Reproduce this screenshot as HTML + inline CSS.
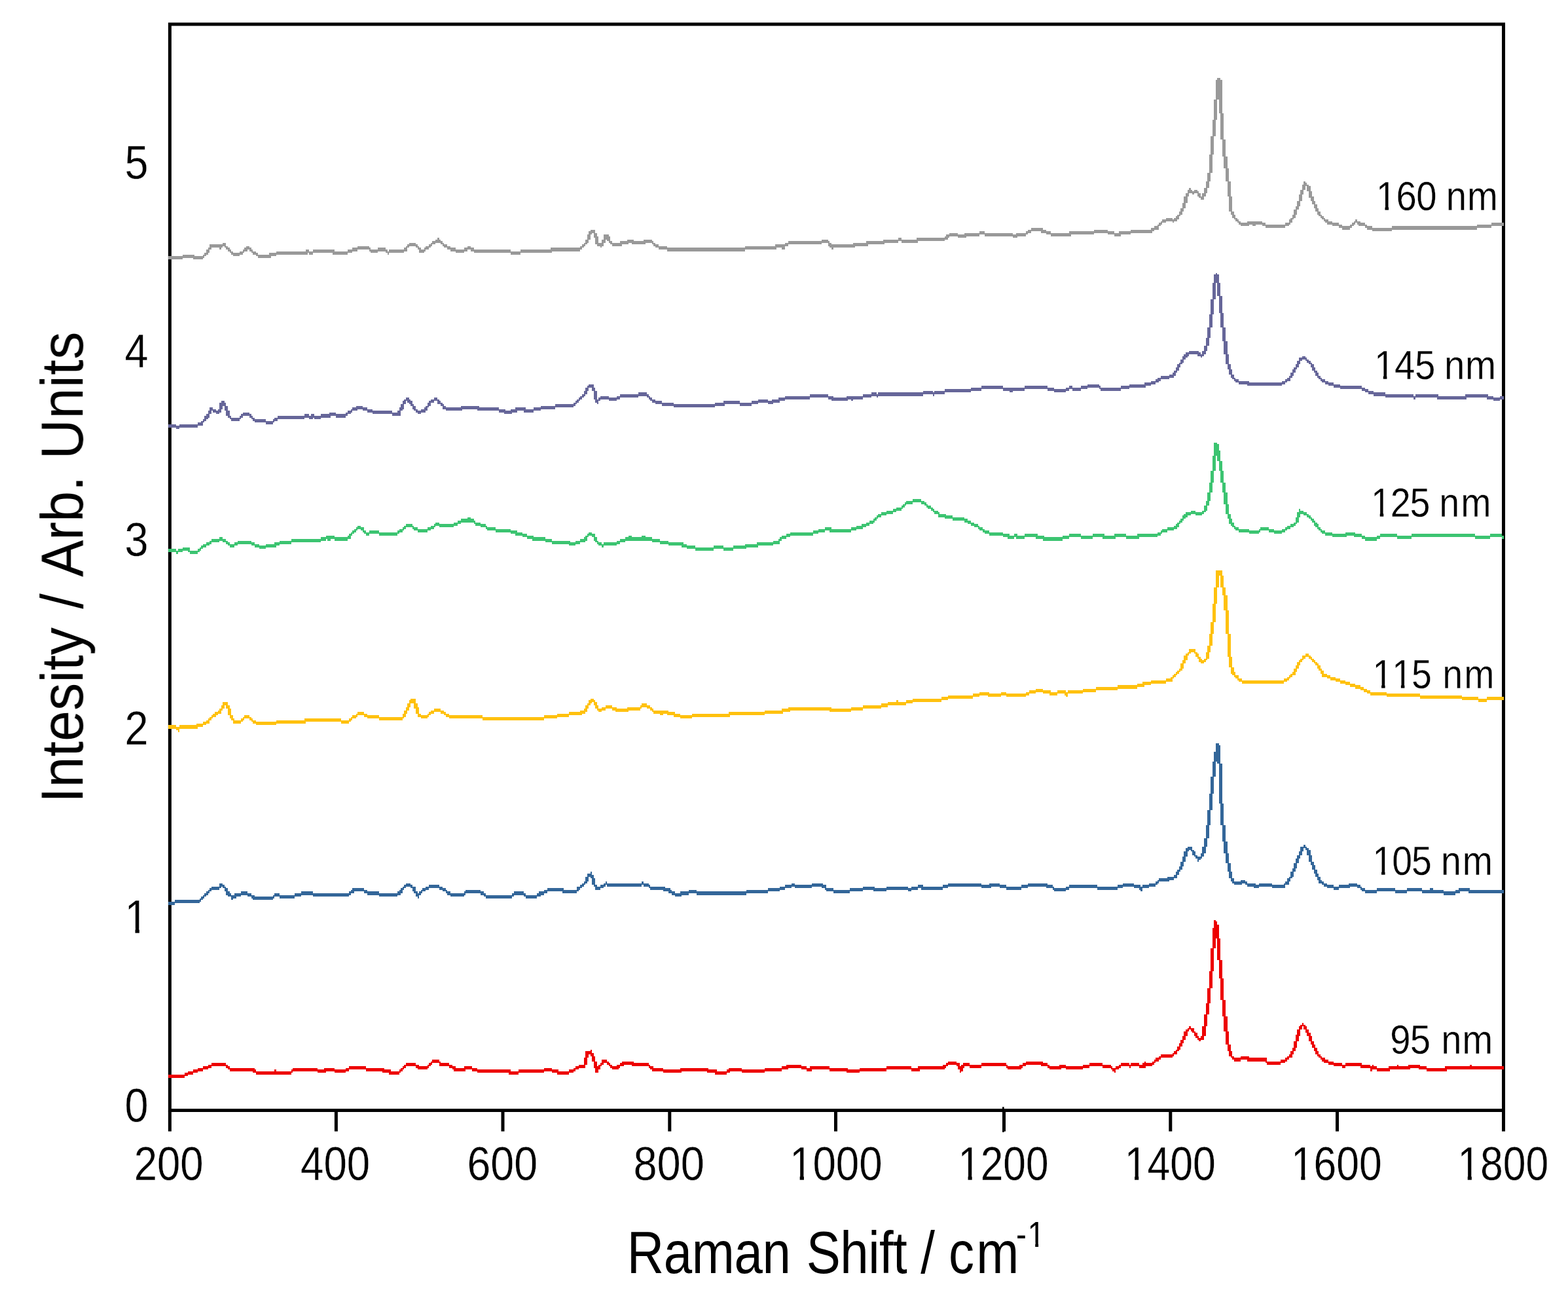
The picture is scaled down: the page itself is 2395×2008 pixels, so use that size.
<!DOCTYPE html>
<html lang="en"><head><meta charset="utf-8"><title>Raman spectra</title>
<style>html,body{margin:0;padding:0;background:#fff;}body{width:2395px;height:2008px;overflow:hidden;}svg{display:block;}text{font-family:"Liberation Sans",Arial,Helvetica,sans-serif;fill:#000;white-space:pre;font-kerning:none;font-variant-ligatures:none;}</style>
</head><body>
<svg width="2395" height="2008" viewBox="0 0 2395 2008">
<defs><filter id="soft" x="-5%" y="-20%" width="110%" height="140%"><feGaussianBlur stdDeviation="0.7"/></filter></defs>
<rect x="0" y="0" width="2395" height="2008" fill="#fff"/>
<g stroke="#000" stroke-width="5.0" fill="none" stroke-linecap="butt">
<rect x="259.4" y="37.0" width="2037.1" height="1658.5"/>
<line x1="259.40" y1="1695.5" x2="259.40" y2="1727.6"/>
<line x1="513.40" y1="1695.5" x2="513.40" y2="1727.6"/>
<line x1="768.00" y1="1695.5" x2="768.00" y2="1727.6"/>
<line x1="1022.80" y1="1695.5" x2="1022.80" y2="1727.6"/>
<line x1="1276.50" y1="1695.5" x2="1276.50" y2="1727.6"/>
<line x1="1533.50" y1="1695.5" x2="1533.50" y2="1727.6"/>
<line x1="1532.35" y1="1690.3" x2="1532.35" y2="1728.8" stroke-width="2.7"/>
<line x1="1787.80" y1="1695.5" x2="1787.80" y2="1727.6"/>
<line x1="2042.50" y1="1695.5" x2="2042.50" y2="1727.6"/>
<line x1="2296.50" y1="1695.5" x2="2296.50" y2="1727.6"/>
</g>
<g stroke="none" shape-rendering="crispEdges">
<path d="M1859.28,119.38H1864.36V121.92H1866.9V172.72H1869.44V213.36H1871.98V238.76H1874.52V256.54H1877.06V276.86H1879.6V299.72H1882.14V322.58H1884.68V327.66H1887.22V332.74H1889.76V335.28H1892.3V337.82H1894.84V340.36H1905V337.82H1927.86V340.36H1932.94V342.9H1963.42V340.36H1968.5V335.28H1971.04V332.74H1973.58V327.66H1976.12V320.04H1978.66V314.96H1981.2V307.34H1983.74V297.18H1986.28V289.56H1988.82V281.94H1991.36V276.86H1993.9V279.4H1996.44V281.94H1998.98V284.48H2001.52V292.1H2004.06V299.72H2006.6V307.34H2009.14V312.42H2011.68V317.5H2014.22V322.58H2016.76V327.66H2019.3V330.2H2021.84V332.74H2024.38V335.28H2029.46V337.82H2034.54V340.36H2044.7V342.9H2049.78V345.44H2062.48V342.9H2065.02V340.36H2067.56V337.82H2070.1V335.28H2072.64V337.82H2077.72V340.36H2085.34V342.9H2087.88V345.44H2095.5V347.98H2125.98V345.44H2255.52V342.9H2278.38V340.36H2296.6V345.44H2278.38V347.98H2255.52V350.52H2125.98V353.06H2095.5V350.52H2087.88V347.98H2085.34V345.44H2075.18V342.9H2072.64V340.36H2070.1V342.9H2067.56V345.44H2065.02V347.98H2062.48V350.52H2049.78V347.98H2044.7V345.44H2034.54V342.9H2026.92V340.36H2024.38V337.82H2021.84V335.28H2019.3V332.74H2016.76V330.2H2014.22V327.66H2011.68V322.58H2009.14V317.5H2006.6V312.42H2004.06V307.34H2001.52V302.26H1998.98V292.1H1996.44V284.48H1993.9V289.56H1991.36V297.18H1988.82V307.34H1986.28V314.96H1983.74V320.04H1981.2V327.66H1978.66V332.74H1976.12V335.28H1973.58V340.36H1971.04V342.9H1968.5V345.44H1963.42V347.98H1932.94V345.44H1927.86V342.9H1917.7V345.44H1912.62V342.9H1907.54V345.44H1894.84V342.9H1892.3V340.36H1889.76V337.82H1887.22V335.28H1884.68V332.74H1882.14V327.66H1879.6V322.58H1877.06V299.72H1874.52V276.86H1871.98V256.54H1869.44V238.76H1866.9V213.36H1864.36V172.72H1861.82V152.4H1859.28V182.88H1856.74V208.28H1854.2V236.22H1851.66V264.16H1849.12V276.86H1846.58V287.02H1844.04V294.64H1841.5V299.72H1838.96V304.8H1833.88V302.26H1831.34V299.72H1828.8V294.64H1823.72V297.18H1821.18V294.64H1816.1V299.72H1813.56V309.88H1811.02V317.5H1808.48V322.58H1805.94V327.66H1803.4V330.2H1800.86V335.28H1798.32V337.82H1793.24V340.36H1790.7V337.82H1780.54V340.36H1775.46V342.9H1772.92V345.44H1770.38V350.52H1762.76V353.06H1760.22V355.6H1727.2V358.14H1711.96V360.68H1701.8V358.14H1691.64V355.6H1671.32V358.14H1635.76V360.68H1605.28V358.14H1597.66V355.6H1590.04V353.06H1574.8V355.6H1569.72V358.14H1567.18V360.68H1554.48V363.22H1546.86V360.68H1503.68V358.14H1496.06V360.68H1475.74V363.22H1463.04V360.68H1450.34V363.22H1447.8V365.76H1442.72V368.3H1402.08V370.84H1376.68V368.3H1371.6V370.84H1351.28V373.38H1325.88V375.92H1305.56V378.46H1272.54V381H1270V378.46H1267.46V375.92H1264.92V370.84H1254.76V373.38H1203.96V375.92H1198.88V381H1193.8V378.46H1186.18V381H1137.92V383.54H1018.54V381H1005.84V378.46H1000.76V375.92H998.22V373.38H995.68V370.84H985.52V373.38H965.2V370.84H960.12V373.38H949.96V375.92H934.72V373.38H932.18V370.84H929.64V368.3H927.1V365.76H924.56V370.84H922.02V375.92H919.48V378.46H916.94V375.92H911.86V373.38H909.32V363.22H906.78V355.6H904.24V358.14H901.7V365.76H899.16V370.84H896.62V373.38H894.08V375.92H891.54V378.46H889V381H886.46V383.54H843.28V386.08H795.02V388.62H779.78V386.08H723.9V383.54H718.82V381H713.74V383.54H708.66V386.08H695.96V383.54H688.34V381H683.26V378.46H678.18V375.92H675.64V373.38H673.1V370.84H665.48V373.38H660.4V375.92H657.86V378.46H655.32V381H650.24V383.54H647.7V386.08H640.08V381H637.54V378.46H635V375.92H624.84V378.46H622.3V383.54H617.22V386.08H594.36V388.62H591.82V386.08H589.28V383.54H576.58V386.08H566.42V383.54H563.88V381H546.1V383.54H538.48V386.08H530.86V388.62H508V386.08H477.52V388.62H472.44V386.08H469.9V388.62H421.64V391.16H414.02V393.7H393.7V391.16H391.16V388.62H386.08V386.08H383.54V383.54H381V381H378.46V383.54H373.38V386.08H370.84V388.62H365.76V391.16H355.6V388.62H353.06V386.08H350.52V383.54H347.98V381H345.44V378.46H342.9V375.92H340.36V378.46H337.82V381H335.28V378.46H322.58V381H320.04V386.08H317.5V388.62H314.96V391.16H312.42V393.7H309.88V396.24H294.64V393.7H279.4V396.24H256.9V391.16H279.4V388.62H297.18V391.16H309.88V388.62H312.42V386.08H314.96V381H317.5V378.46H320.04V373.38H340.36V370.84H345.44V375.92H347.98V378.46H350.52V381H353.06V383.54H355.6V386.08H365.76V383.54H370.84V381H373.38V378.46H375.92V375.92H381V378.46H383.54V381H386.08V383.54H391.16V386.08H393.7V388.62H411.48V386.08H421.64V383.54H467.36V381H472.44V383.54H477.52V381H510.54V383.54H530.86V381H538.48V378.46H546.1V375.92H563.88V378.46H566.42V381H576.58V378.46H589.28V381H591.82V383.54H594.36V381H617.22V378.46H619.76V375.92H622.3V373.38H624.84V370.84H635V373.38H637.54V375.92H640.08V378.46H642.62V381H647.7V378.46H650.24V375.92H655.32V373.38H657.86V370.84H660.4V368.3H665.48V365.76H668.02V363.22H670.56V365.76H673.1V368.3H675.64V370.84H678.18V373.38H683.26V375.92H688.34V378.46H695.96V381H708.66V378.46H713.74V375.92H718.82V378.46H723.9V381H779.78V383.54H795.02V381H840.74V378.46H886.46V375.92H889V373.38H891.54V370.84H894.08V365.76H896.62V358.14H899.16V353.06H901.7V350.52H909.32V355.6H911.86V360.68H914.4V370.84H919.48V365.76H922.02V358.14H929.64V360.68H932.18V368.3H934.72V370.84H947.42V368.3H957.58V365.76H967.74V368.3H982.98V365.76H995.68V368.3H998.22V370.84H1000.76V373.38H1005.84V375.92H1018.54V378.46H1137.92V375.92H1183.64V373.38H1198.88V370.84H1203.96V368.3H1254.76V365.76H1264.92V368.3H1267.46V370.84H1270V373.38H1303.02V370.84H1323.34V368.3H1348.74V365.76H1371.6V363.22H1376.68V365.76H1399.54V363.22H1442.72V360.68H1445.26V358.14H1450.34V355.6H1463.04V358.14H1473.2V355.6H1496.06V353.06H1503.68V355.6H1546.86V358.14H1551.94V355.6H1567.18V353.06H1569.72V350.52H1574.8V347.98H1592.58V350.52H1597.66V353.06H1605.28V355.6H1633.22V353.06H1671.32V350.52H1691.64V353.06H1701.8V355.6H1709.42V353.06H1727.2V350.52H1757.68V347.98H1762.76V345.44H1767.84V342.9H1770.38V340.36H1772.92V337.82H1775.46V335.28H1780.54V332.74H1790.7V335.28H1793.24V332.74H1795.78V330.2H1798.32V327.66H1800.86V322.58H1803.4V317.5H1805.94V309.88H1808.48V299.72H1811.02V294.64H1813.56V289.56H1816.1V287.02H1818.64V289.56H1821.18V292.1H1823.72V289.56H1828.8V292.1H1831.34V294.64H1833.88V299.72H1836.42V294.64H1838.96V287.02H1841.5V276.86H1844.04V264.16H1846.58V236.22H1849.12V208.28H1851.66V182.88H1854.2V152.4H1856.74V121.92H1859.28Z" fill="#999999"/>
<path d="M1856.74,416.56H1859.28V419.1H1861.82V431.8H1864.36V452.12H1866.9V477.52H1869.44V500.38H1871.98V520.7H1874.52V541.02H1877.06V556.26H1879.6V563.88H1882.14V571.5H1884.68V576.58H1887.22V579.12H1892.3V581.66H1907.54V584.2H1958.34V581.66H1963.42V579.12H1965.96V576.58H1968.5V574.04H1971.04V568.96H1973.58V563.88H1976.12V561.34H1978.66V556.26H1981.2V551.18H1983.74V546.1H1988.82V543.56H1993.9V546.1H1996.44V548.64H1998.98V551.18H2001.52V553.72H2004.06V556.26H2006.6V561.34H2009.14V566.42H2011.68V568.96H2014.22V574.04H2016.76V576.58H2019.3V579.12H2024.38V581.66H2029.46V584.2H2037.08V586.74H2047.24V589.28H2080.26V591.82H2085.34V594.36H2090.42V596.9H2098.04V599.44H2115.82V601.98H2159V604.52H2161.54V601.98H2197.1V604.52H2237.74V601.98H2273.3V604.52H2280.92V607.06H2291.08V604.52H2296.6V609.6H2291.08V612.14H2280.92V609.6H2270.76V607.06H2240.28V609.6H2194.56V607.06H2161.54V609.6H2159V607.06H2115.82V604.52H2098.04V601.98H2090.42V599.44H2085.34V596.9H2080.26V594.36H2047.24V591.82H2037.08V589.28H2029.46V586.74H2024.38V584.2H2019.3V581.66H2016.76V579.12H2014.22V576.58H2011.68V574.04H2009.14V568.96H2006.6V566.42H2004.06V561.34H2001.52V556.26H1998.98V553.72H1996.44V551.18H1993.9V548.64H1988.82V551.18H1986.28V556.26H1983.74V561.34H1981.2V563.88H1978.66V568.96H1976.12V574.04H1973.58V576.58H1971.04V581.66H1965.96V584.2H1963.42V586.74H1958.34V589.28H1905V586.74H1892.3V584.2H1887.22V581.66H1884.68V579.12H1882.14V576.58H1879.6V571.5H1877.06V563.88H1874.52V556.26H1871.98V541.02H1869.44V520.7H1866.9V500.38H1864.36V477.52H1861.82V452.12H1859.28V431.8H1856.74V457.2H1854.2V480.06H1851.66V500.38H1849.12V515.62H1846.58V528.32H1844.04V535.94H1841.5V541.02H1838.96V543.56H1836.42V546.1H1833.88V543.56H1828.8V541.02H1816.1V543.56H1813.56V546.1H1811.02V548.64H1808.48V553.72H1805.94V556.26H1803.4V561.34H1800.86V566.42H1798.32V568.96H1795.78V574.04H1793.24V576.58H1785.62V579.12H1772.92V581.66H1770.38V584.2H1765.3V586.74H1757.68V589.28H1750.06V591.82H1724.66V594.36H1711.96V596.9H1681.48V594.36H1678.94V591.82H1661.16V594.36H1651V596.9H1638.3V594.36H1633.22V596.9H1628.14V599.44H1610.36V596.9H1600.2V594.36H1564.64V596.9H1546.86V599.44H1541.78V596.9H1531.62V594.36H1498.6V596.9H1483.36V599.44H1442.72V601.98H1427.48V604.52H1424.94V601.98H1409.7V604.52H1341.12V607.06H1338.58V604.52H1330.96V607.06H1318.26V609.6H1303.02V612.14H1300.48V609.6H1295.4V612.14H1270V609.6H1264.92V607.06H1236.98V609.6H1198.88V612.14H1191.26V614.68H1181.1V617.22H1173.48V614.68H1158.24V617.22H1148.08V619.76H1130.3V617.22H1107.44V619.76H1092.2V622.3H1028.7V619.76H1010.92V617.22H1000.76V614.68H995.68V612.14H993.14V609.6H990.6V607.06H988.06V604.52H975.36V607.06H947.42V609.6H942.34V612.14H929.64V609.6H916.94V612.14H914.4V617.22H911.86V614.68H909.32V609.6H906.78V596.9H904.24V591.82H899.16V596.9H896.62V601.98H894.08V604.52H891.54V607.06H889V609.6H886.46V612.14H883.92V614.68H881.38V617.22H878.84V619.76H876.3V622.3H848.36V624.84H825.5V627.38H815.34V629.92H800.1V627.38H789.94V629.92H782.32V632.46H769.62V629.92H762V627.38H728.98V624.84H706.12V627.38H680.72V624.84H675.64V619.76H673.1V617.22H668.02V612.14H662.94V614.68H657.86V619.76H655.32V622.3H652.78V627.38H650.24V629.92H642.62V632.46H637.54V629.92H635V627.38H632.46V624.84H629.92V619.76H627.38V617.22H624.84V614.68H622.3V612.14H619.76V617.22H617.22V624.84H614.68V627.38H612.14V635H599.44V632.46H568.96V629.92H561.34V627.38H553.72V624.84H546.1V627.38H538.48V629.92H535.94V632.46H530.86V635H528.32V637.54H513.08V635H505.46V637.54H490.22V640.08H480.06V637.54H477.52V640.08H472.44V637.54H464.82V640.08H424.18V642.62H419.1V645.16H416.56V647.7H406.4V645.16H388.62V642.62H386.08V640.08H383.54V637.54H381V635H370.84V637.54H368.3V640.08H365.76V642.62H353.06V640.08H350.52V637.54H347.98V635H345.44V627.38H342.9V619.76H340.36V624.84H337.82V629.92H335.28V632.46H330.2V629.92H325.12V627.38H322.58V632.46H320.04V637.54H317.5V640.08H314.96V642.62H312.42V645.16H309.88V650.24H302.26V652.78H274.32V655.32H269.24V652.78H256.9V647.7H269.24V650.24H274.32V647.7H302.26V645.16H307.34V642.62H309.88V640.08H312.42V635H314.96V632.46H317.5V627.38H320.04V622.3H325.12V624.84H330.2V627.38H332.74V624.84H335.28V614.68H337.82V612.14H342.9V614.68H345.44V619.76H347.98V627.38H350.52V635H353.06V637.54H365.76V635H368.3V632.46H370.84V629.92H381V632.46H383.54V635H386.08V637.54H388.62V640.08H406.4V642.62H416.56V640.08H419.1V637.54H424.18V635H464.82V632.46H472.44V635H474.98V632.46H480.06V635H490.22V632.46H502.92V629.92H513.08V632.46H528.32V629.92H530.86V627.38H535.94V624.84H538.48V622.3H543.56V619.76H553.72V622.3H561.34V624.84H568.96V627.38H599.44V629.92H607.06V627.38H609.6V622.3H612.14V617.22H614.68V612.14H617.22V609.6H619.76V607.06H624.84V609.6H627.38V612.14H629.92V617.22H632.46V619.76H635V624.84H637.54V627.38H642.62V624.84H647.7V622.3H650.24V619.76H652.78V614.68H655.32V612.14H657.86V609.6H662.94V607.06H668.02V609.6H670.56V612.14H673.1V614.68H675.64V617.22H678.18V619.76H680.72V622.3H703.58V619.76H731.52V622.3H762V624.84H772.16V627.38H779.78V624.84H787.4V622.3H802.64V624.84H815.34V622.3H825.5V619.76H848.36V617.22H876.3V614.68H878.84V612.14H881.38V609.6H883.92V607.06H886.46V604.52H889V601.98H891.54V596.9H894.08V591.82H896.62V589.28H899.16V586.74H906.78V591.82H909.32V596.9H911.86V609.6H914.4V607.06H916.94V604.52H929.64V607.06H942.34V604.52H947.42V601.98H975.36V599.44H988.06V601.98H990.6V604.52H993.14V607.06H995.68V609.6H1000.76V612.14H1010.92V614.68H1028.7V617.22H1092.2V614.68H1104.9V612.14H1130.3V614.68H1148.08V612.14H1158.24V609.6H1173.48V612.14H1178.56V609.6H1188.72V607.06H1198.88V604.52H1236.98V601.98H1264.92V604.52H1272.54V607.06H1292.86V604.52H1318.26V601.98H1330.96V599.44H1338.58V601.98H1341.12V599.44H1409.7V596.9H1424.94V599.44H1427.48V596.9H1442.72V594.36H1483.36V591.82H1498.6V589.28H1531.62V591.82H1564.64V589.28H1600.2V591.82H1610.36V594.36H1628.14V591.82H1633.22V589.28H1638.3V591.82H1651V589.28H1661.16V586.74H1678.94V589.28H1681.48V591.82H1711.96V589.28H1724.66V586.74H1747.52V584.2H1757.68V581.66H1765.3V579.12H1767.84V576.58H1772.92V574.04H1785.62V571.5H1790.7V568.96H1793.24V566.42H1795.78V561.34H1798.32V556.26H1800.86V553.72H1803.4V548.64H1805.94V543.56H1808.48V541.02H1811.02V538.48H1816.1V535.94H1831.34V538.48H1833.88V541.02H1836.42V535.94H1838.96V528.32H1841.5V515.62H1844.04V500.38H1846.58V480.06H1849.12V457.2H1851.66V431.8H1854.2V419.1H1856.74Z" fill="#666699"/>
<path d="M1854.2,675.64H1859.28V678.18H1861.82V688.34H1864.36V703.58H1866.9V718.82H1869.44V736.6H1871.98V751.84H1874.52V769.62H1877.06V784.86H1879.6V792.48H1882.14V797.56H1884.68V802.64H1887.22V805.18H1892.3V807.72H1907.54V810.26H1922.78V807.72H1925.32V805.18H1938.02V807.72H1945.64V810.26H1958.34V807.72H1963.42V805.18H1965.96V802.64H1971.04V800.1H1976.12V797.56H1978.66V789.94H1981.2V782.32H1983.74V777.24H1986.28V779.78H1991.36V782.32H1996.44V784.86H1998.98V787.4H2001.52V789.94H2004.06V792.48H2006.6V795.02H2009.14V797.56H2011.68V800.1H2014.22V805.18H2016.76V807.72H2019.3V810.26H2024.38V812.8H2034.54V815.34H2054.86V812.8H2070.1V815.34H2080.26V817.88H2085.34V820.42H2103.12V817.88H2108.2V815.34H2133.6V817.88H2156.46V815.34H2252.98V817.88H2275.84V815.34H2293.62V817.88H2296.6V822.96H2293.62V820.42H2275.84V822.96H2252.98V820.42H2156.46V822.96H2133.6V820.42H2108.2V822.96H2103.12V825.5H2085.34V822.96H2080.26V820.42H2067.56V817.88H2057.4V820.42H2034.54V817.88H2024.38V815.34H2019.3V812.8H2016.76V810.26H2014.22V807.72H2011.68V805.18H2009.14V802.64H2006.6V797.56H2004.06V795.02H2001.52V792.48H1998.98V789.94H1996.44V787.4H1991.36V784.86H1986.28V789.94H1983.74V797.56H1981.2V800.1H1978.66V802.64H1976.12V805.18H1971.04V807.72H1965.96V810.26H1963.42V812.8H1958.34V815.34H1945.64V812.8H1938.02V810.26H1925.32V812.8H1922.78V815.34H1907.54V812.8H1892.3V810.26H1887.22V807.72H1884.68V805.18H1882.14V802.64H1879.6V800.1H1877.06V792.48H1874.52V784.86H1871.98V769.62H1869.44V751.84H1866.9V736.6H1864.36V718.82H1861.82V703.58H1859.28V695.96H1856.74V718.82H1854.2V736.6H1851.66V751.84H1849.12V764.54H1846.58V772.16H1844.04V779.78H1841.5V782.32H1838.96V784.86H1836.42V787.4H1826.26V784.86H1818.64V787.4H1813.56V789.94H1811.02V792.48H1808.48V795.02H1805.94V797.56H1803.4V800.1H1800.86V805.18H1798.32V807.72H1793.24V810.26H1783.08V812.8H1775.46V815.34H1772.92V817.88H1767.84V820.42H1739.9V822.96H1719.58V820.42H1704.34V822.96H1684.02V820.42H1668.78V822.96H1651V820.42H1633.22V822.96H1623.06V825.5H1592.58V822.96H1582.42V820.42H1564.64V822.96H1551.94V820.42H1549.4V822.96H1539.24V820.42H1531.62V817.88H1511.3V815.34H1503.68V812.8H1501.14V810.26H1496.06V807.72H1493.52V805.18H1488.44V802.64H1483.36V800.1H1478.28V797.56H1473.2V795.02H1455.42V792.48H1442.72V789.94H1432.56V784.86H1427.48V782.32H1424.94V779.78H1422.4V777.24H1417.32V774.7H1414.78V772.16H1412.24V769.62H1407.16V767.08H1394.46V769.62H1384.3V772.16H1381.76V774.7H1379.22V777.24H1376.68V779.78H1369.06V782.32H1363.98V784.86H1353.82V787.4H1346.2V789.94H1341.12V792.48H1338.58V795.02H1336.04V797.56H1333.5V800.1H1328.42V802.64H1323.34V805.18H1318.26V807.72H1308.1V810.26H1300.48V812.8H1267.46V810.26H1259.84V812.8H1249.68V815.34H1242.06V817.88H1206.5V820.42H1201.42V822.96H1193.8V825.5H1191.26V830.58H1181.1V833.12H1158.24V835.66H1140.46V838.2H1120.14V840.74H1104.9V838.2H1089.66V840.74H1061.72V838.2H1049.02V835.66H1041.4V833.12H1021.08V830.58H1008.38V828.04H995.68V825.5H955.04V828.04H947.42V830.58H942.34V833.12H922.02V835.66H919.48V833.12H914.4V830.58H911.86V828.04H909.32V825.5H906.78V820.42H904.24V817.88H899.16V820.42H896.62V825.5H894.08V828.04H886.46V830.58H878.84V833.12H868.68V830.58H843.28V828.04H833.12V825.5H812.8V822.96H805.18V820.42H797.56V817.88H787.4V815.34H779.78V812.8H756.92V810.26H744.22V807.72H741.68V805.18H734.06V802.64H726.44V800.1H723.9V797.56H703.58V800.1H698.5V802.64H693.42V805.18H670.56V802.64H665.48V805.18H662.94V807.72H657.86V810.26H652.78V812.8H637.54V810.26H632.46V807.72H629.92V805.18H619.76V807.72H617.22V810.26H614.68V812.8H609.6V815.34H607.06V817.88H579.12V815.34H563.88V817.88H558.8V815.34H556.26V812.8H553.72V810.26H551.18V807.72H546.1V810.26H543.56V812.8H541.02V815.34H538.48V817.88H535.94V822.96H530.86V825.5H510.54V822.96H505.46V825.5H500.38V822.96H497.84V825.5H490.22V828.04H444.5V830.58H426.72V833.12H421.64V835.66H406.4V838.2H396.24V835.66H388.62V833.12H383.54V830.58H363.22V833.12H358.14V835.66H350.52V833.12H347.98V830.58H345.44V828.04H340.36V825.5H335.28V828.04H322.58V830.58H320.04V833.12H314.96V835.66H309.88V838.2H307.34V840.74H304.8V843.28H302.26V845.82H289.56V843.28H287.02V840.74H279.4V843.28H271.78V845.82H269.24V843.28H256.9V838.2H269.24V840.74H271.78V838.2H279.4V835.66H289.56V840.74H302.26V838.2H304.8V835.66H307.34V833.12H309.88V830.58H314.96V828.04H320.04V825.5H322.58V822.96H335.28V820.42H340.36V822.96H345.44V825.5H347.98V828.04H350.52V830.58H358.14V828.04H363.22V825.5H383.54V828.04H388.62V830.58H396.24V833.12H406.4V830.58H419.1V828.04H426.72V825.5H444.5V822.96H490.22V820.42H497.84V817.88H510.54V820.42H530.86V817.88H533.4V815.34H535.94V812.8H538.48V810.26H541.02V807.72H543.56V805.18H546.1V802.64H551.18V805.18H556.26V810.26H558.8V812.8H563.88V810.26H579.12V812.8H607.06V810.26H609.6V807.72H614.68V805.18H617.22V802.64H619.76V800.1H629.92V802.64H632.46V805.18H637.54V807.72H652.78V805.18H657.86V802.64H662.94V800.1H665.48V797.56H670.56V800.1H693.42V797.56H698.5V795.02H703.58V792.48H713.74V789.94H718.82V792.48H723.9V795.02H726.44V797.56H734.06V800.1H741.68V802.64H744.22V805.18H756.92V807.72H779.78V810.26H789.94V812.8H797.56V815.34H805.18V817.88H815.34V820.42H833.12V822.96H843.28V825.5H871.22V828.04H878.84V825.5H886.46V822.96H891.54V820.42H894.08V817.88H896.62V815.34H899.16V812.8H904.24V815.34H909.32V820.42H911.86V825.5H914.4V828.04H919.48V830.58H922.02V828.04H942.34V825.5H947.42V822.96H955.04V820.42H960.12V817.88H965.2V820.42H980.44V817.88H985.52V820.42H995.68V822.96H1008.38V825.5H1021.08V828.04H1043.94V830.58H1049.02V833.12H1061.72V835.66H1089.66V833.12H1104.9V835.66H1120.14V833.12H1137.92V830.58H1155.7V828.04H1181.1V825.5H1188.72V822.96H1191.26V820.42H1193.8V817.88H1201.42V815.34H1206.5V812.8H1242.06V810.26H1249.68V807.72H1259.84V805.18H1270V807.72H1300.48V805.18H1308.1V802.64H1315.72V800.1H1323.34V797.56H1328.42V795.02H1333.5V792.48H1336.04V789.94H1338.58V787.4H1341.12V784.86H1346.2V782.32H1353.82V779.78H1363.98V777.24H1369.06V774.7H1376.68V772.16H1379.22V769.62H1381.76V767.08H1384.3V764.54H1394.46V762H1407.16V764.54H1412.24V767.08H1414.78V769.62H1417.32V772.16H1422.4V774.7H1424.94V777.24H1427.48V779.78H1432.56V782.32H1435.1V784.86H1445.26V787.4H1455.42V789.94H1473.2V792.48H1478.28V795.02H1483.36V797.56H1488.44V800.1H1493.52V802.64H1496.06V805.18H1501.14V807.72H1503.68V810.26H1511.3V812.8H1531.62V815.34H1541.78V817.88H1549.4V815.34H1554.48V817.88H1564.64V815.34H1584.96V817.88H1595.12V820.42H1623.06V817.88H1633.22V815.34H1651V817.88H1668.78V815.34H1686.56V817.88H1701.8V815.34H1719.58V817.88H1737.36V815.34H1767.84V812.8H1772.92V810.26H1775.46V807.72H1783.08V805.18H1793.24V802.64H1795.78V800.1H1798.32V797.56H1800.86V795.02H1803.4V792.48H1805.94V787.4H1808.48V784.86H1811.02V782.32H1818.64V779.78H1826.26V782.32H1836.42V779.78H1838.96V772.16H1841.5V764.54H1844.04V751.84H1846.58V736.6H1849.12V718.82H1851.66V695.96H1854.2Z" fill="#3cc471"/>
<path d="M1856.74,871.22H1866.9V878.84H1869.44V896.62H1871.98V909.32H1874.52V932.18H1877.06V967.74H1879.6V1003.3H1882.14V1018.54H1884.68V1026.16H1887.22V1031.24H1892.3V1036.32H1897.38V1038.86H1960.88V1036.32H1965.96V1033.78H1968.5V1031.24H1971.04V1028.7H1973.58V1026.16H1976.12V1021.08H1978.66V1016H1981.2V1010.92H1983.74V1008.38H1986.28V1005.84H1988.82V1000.76H1993.9V998.22H1998.98V1000.76H2001.52V1003.3H2004.06V1005.84H2006.6V1008.38H2009.14V1010.92H2011.68V1013.46H2014.22V1016H2016.76V1021.08H2019.3V1023.62H2021.84V1028.7H2026.92V1031.24H2032V1033.78H2039.62V1036.32H2047.24V1038.86H2054.86V1041.4H2062.48V1043.94H2070.1V1046.48H2077.72V1049.02H2082.8V1051.56H2087.88V1054.1H2092.96V1056.64H2118.36V1059.18H2169.16V1061.72H2232.66V1064.26H2258.06V1066.8H2270.76V1064.26H2296.6V1069.34H2270.76V1071.88H2258.06V1069.34H2232.66V1066.8H2169.16V1064.26H2118.36V1061.72H2092.96V1059.18H2087.88V1056.64H2082.8V1054.1H2077.72V1051.56H2070.1V1049.02H2062.48V1046.48H2054.86V1043.94H2047.24V1041.4H2039.62V1038.86H2032V1036.32H2026.92V1033.78H2019.3V1028.7H2016.76V1023.62H2014.22V1021.08H2011.68V1016H2009.14V1013.46H2006.6V1010.92H2004.06V1008.38H2001.52V1005.84H1998.98V1003.3H1993.9V1005.84H1991.36V1008.38H1988.82V1010.92H1986.28V1016H1983.74V1021.08H1981.2V1026.16H1978.66V1031.24H1973.58V1033.78H1971.04V1036.32H1968.5V1038.86H1965.96V1041.4H1960.88V1043.94H1897.38V1041.4H1892.3V1038.86H1889.76V1036.32H1887.22V1033.78H1884.68V1031.24H1882.14V1028.7H1879.6V1018.54H1877.06V1003.3H1874.52V967.74H1871.98V932.18H1869.44V909.32H1866.9V896.62H1864.36V878.84H1861.82V896.62H1859.28V922.02H1856.74V949.96H1854.2V967.74H1851.66V985.52H1849.12V995.68H1846.58V1005.84H1844.04V1008.38H1841.5V1010.92H1838.96V1013.46H1833.88V1010.92H1831.34V1005.84H1828.8V1003.3H1826.26V998.22H1823.72V995.68H1818.64V998.22H1816.1V1000.76H1813.56V1008.38H1811.02V1013.46H1808.48V1021.08H1805.94V1023.62H1803.4V1026.16H1800.86V1028.7H1798.32V1031.24H1795.78V1033.78H1793.24V1036.32H1790.7V1041.4H1780.54V1043.94H1757.68V1046.48H1747.52V1049.02H1737.36V1051.56H1706.88V1054.1H1673.86V1056.64H1653.54V1059.18H1630.68V1064.26H1628.14V1061.72H1625.6V1059.18H1615.44V1061.72H1602.74V1059.18H1592.58V1056.64H1582.42V1059.18H1572.26V1061.72H1567.18V1064.26H1536.7V1061.72H1529.08V1064.26H1508.76V1061.72H1496.06V1064.26H1485.9V1066.8H1447.8V1069.34H1437.64V1071.88H1394.46V1074.42H1384.3V1076.96H1356.36V1079.5H1346.2V1082.04H1318.26V1084.58H1300.48V1087.12H1267.46V1084.58H1206.5V1087.12H1196.34V1089.66H1168.4V1092.2H1115.06V1094.74H1056.64V1097.28H1038.86V1094.74H1028.7V1092.2H1018.54V1089.66H1013.46V1092.2H1008.38V1089.66H998.22V1087.12H995.68V1084.58H993.14V1082.04H988.06V1079.5H980.44V1082.04H977.9V1084.58H960.12V1087.12H939.8V1084.58H934.72V1082.04H924.56V1084.58H919.48V1087.12H914.4V1084.58H911.86V1082.04H909.32V1076.96H906.78V1071.88H904.24V1074.42H901.7V1076.96H899.16V1082.04H896.62V1087.12H894.08V1089.66H889V1092.2H868.68V1094.74H850.9V1097.28H830.58V1099.82H736.6V1097.28H685.8V1094.74H680.72V1092.2H678.18V1089.66H673.1V1087.12H662.94V1089.66H657.86V1092.2H655.32V1094.74H652.78V1097.28H642.62V1094.74H637.54V1089.66H635V1082.04H632.46V1074.42H627.38V1079.5H624.84V1084.58H622.3V1089.66H619.76V1094.74H617.22V1097.28H614.68V1099.82H579.12V1097.28H561.34V1094.74H556.26V1092.2H546.1V1094.74H543.56V1097.28H538.48V1099.82H535.94V1102.36H533.4V1104.9H520.7V1102.36H467.36V1104.9H421.64V1107.44H391.16V1104.9H386.08V1102.36H383.54V1099.82H381V1097.28H373.38V1099.82H370.84V1102.36H368.3V1104.9H355.6V1099.82H353.06V1097.28H350.52V1092.2H347.98V1082.04H345.44V1076.96H342.9V1082.04H340.36V1084.58H337.82V1089.66H332.74V1092.2H330.2V1094.74H325.12V1097.28H322.58V1099.82H320.04V1104.9H314.96V1107.44H309.88V1109.98H302.26V1112.52H274.32V1117.6H271.78V1115.06H269.24V1112.52H256.9V1107.44H269.24V1109.98H274.32V1107.44H299.72V1104.9H309.88V1102.36H314.96V1099.82H317.5V1097.28H320.04V1094.74H322.58V1092.2H325.12V1089.66H327.66V1087.12H332.74V1084.58H335.28V1082.04H337.82V1076.96H340.36V1071.88H347.98V1076.96H350.52V1082.04H353.06V1092.2H355.6V1097.28H358.14V1099.82H368.3V1097.28H370.84V1094.74H373.38V1092.2H381V1094.74H383.54V1097.28H386.08V1099.82H391.16V1102.36H421.64V1099.82H464.82V1097.28H520.7V1099.82H533.4V1097.28H535.94V1094.74H538.48V1092.2H543.56V1089.66H546.1V1087.12H556.26V1089.66H561.34V1092.2H579.12V1094.74H614.68V1089.66H617.22V1084.58H619.76V1079.5H622.3V1074.42H624.84V1069.34H627.38V1066.8H635V1074.42H637.54V1079.5H640.08V1089.66H642.62V1092.2H652.78V1089.66H655.32V1087.12H657.86V1084.58H662.94V1082.04H673.1V1084.58H678.18V1087.12H680.72V1089.66H685.8V1092.2H736.6V1094.74H830.58V1092.2H850.9V1089.66H868.68V1087.12H886.46V1084.58H891.54V1082.04H894.08V1076.96H896.62V1074.42H899.16V1069.34H901.7V1066.8H906.78V1069.34H909.32V1071.88H911.86V1076.96H914.4V1082.04H919.48V1079.5H924.56V1076.96H934.72V1079.5H942.34V1082.04H957.58V1079.5H977.9V1076.96H980.44V1074.42H988.06V1076.96H993.14V1079.5H995.68V1082.04H998.22V1084.58H1021.08V1087.12H1031.24V1089.66H1038.86V1092.2H1056.64V1089.66H1112.52V1087.12H1168.4V1084.58H1193.8V1082.04H1203.96V1079.5H1270V1082.04H1300.48V1079.5H1318.26V1076.96H1346.2V1074.42H1356.36V1071.88H1369.06V1069.34H1371.6V1071.88H1384.3V1069.34H1394.46V1066.8H1437.64V1064.26H1447.8V1061.72H1485.9V1059.18H1496.06V1056.64H1511.3V1059.18H1529.08V1056.64H1536.7V1059.18H1567.18V1056.64H1572.26V1054.1H1582.42V1051.56H1592.58V1054.1H1605.28V1056.64H1615.44V1054.1H1628.14V1056.64H1630.68V1054.1H1653.54V1051.56H1673.86V1049.02H1706.88V1046.48H1737.36V1043.94H1744.98V1041.4H1757.68V1038.86H1780.54V1036.32H1788.16V1033.78H1790.7V1031.24H1793.24V1028.7H1795.78V1026.16H1798.32V1023.62H1800.86V1021.08H1803.4V1013.46H1805.94V1008.38H1808.48V1000.76H1811.02V998.22H1813.56V995.68H1816.1V990.6H1826.26V995.68H1828.8V998.22H1831.34V1003.3H1833.88V1005.84H1836.42V1008.38H1838.96V1005.84H1841.5V995.68H1844.04V985.52H1846.58V967.74H1849.12V949.96H1851.66V922.02H1854.2V896.62H1856.74Z" fill="#ffc10e"/>
<path d="M1856.74,1135.38H1861.82V1137.92H1864.36V1165.86H1866.9V1226.82H1869.44V1259.84H1871.98V1285.24H1874.52V1303.02H1877.06V1318.26H1879.6V1330.96H1882.14V1341.12H1884.68V1346.2H1894.84V1343.66H1902.46V1346.2H1905V1348.74H1917.7V1351.28H1922.78V1348.74H1943.1V1351.28H1960.88V1348.74H1963.42V1346.2H1965.96V1341.12H1968.5V1338.58H1971.04V1330.96H1973.58V1325.88H1976.12V1318.26H1978.66V1310.64H1981.2V1305.56H1983.74V1300.48H1986.28V1292.86H1991.36V1290.32H1993.9V1292.86H1996.44V1295.4H1998.98V1297.94H2001.52V1305.56H2004.06V1315.72H2006.6V1320.8H2009.14V1328.42H2011.68V1333.5H2014.22V1338.58H2016.76V1343.66H2019.3V1346.2H2021.84V1348.74H2026.92V1351.28H2037.08V1353.82H2044.7V1351.28H2059.94V1348.74H2072.64V1351.28H2077.72V1353.82H2080.26V1356.36H2085.34V1358.9H2103.12V1356.36H2131.06V1358.9H2148.84V1356.36H2171.7V1358.9H2184.4V1356.36H2189.48V1358.9H2204.72V1361.44H2222.5V1358.9H2227.58V1356.36H2245.36V1358.9H2296.6V1363.98H2242.82V1361.44H2230.12V1363.98H2222.5V1366.52H2204.72V1363.98H2171.7V1361.44H2148.84V1363.98H2131.06V1361.44H2103.12V1363.98H2085.34V1361.44H2080.26V1358.9H2077.72V1356.36H2072.64V1353.82H2062.48V1356.36H2044.7V1358.9H2037.08V1356.36H2026.92V1353.82H2021.84V1351.28H2019.3V1348.74H2014.22V1343.66H2011.68V1338.58H2009.14V1333.5H2006.6V1328.42H2004.06V1320.8H2001.52V1315.72H1998.98V1305.56H1996.44V1297.94H1993.9V1295.4H1991.36V1300.48H1988.82V1305.56H1986.28V1310.64H1983.74V1318.26H1981.2V1325.88H1978.66V1330.96H1976.12V1338.58H1973.58V1341.12H1971.04V1346.2H1968.5V1351.28H1963.42V1356.36H1943.1V1353.82H1922.78V1356.36H1915.16V1353.82H1905V1351.28H1902.46V1348.74H1897.38V1351.28H1884.68V1348.74H1882.14V1346.2H1879.6V1341.12H1877.06V1330.96H1874.52V1318.26H1871.98V1303.02H1869.44V1285.24H1866.9V1259.84H1864.36V1226.82H1861.82V1165.86H1859.28V1163.32H1856.74V1186.18H1854.2V1211.58H1851.66V1236.98H1849.12V1259.84H1846.58V1280.16H1844.04V1292.86H1841.5V1303.02H1838.96V1308.1H1836.42V1310.64H1833.88V1313.18H1831.34V1315.72H1828.8V1310.64H1826.26V1308.1H1823.72V1305.56H1821.18V1300.48H1818.64V1297.94H1816.1V1300.48H1813.56V1308.1H1811.02V1315.72H1808.48V1323.34H1805.94V1328.42H1803.4V1330.96H1800.86V1336.04H1798.32V1341.12H1793.24V1343.66H1785.62V1346.2H1770.38V1348.74H1767.84V1351.28H1765.3V1353.82H1755.14V1356.36H1744.98V1361.44H1742.44V1358.9H1739.9V1356.36H1732.28V1353.82H1714.5V1356.36H1706.88V1358.9H1676.4V1356.36H1633.22V1358.9H1628.14V1361.44H1610.36V1358.9H1607.82V1356.36H1597.66V1353.82H1569.72V1356.36H1559.56V1358.9H1536.7V1356.36H1526.54V1353.82H1513.84V1356.36H1498.6V1353.82H1447.8V1356.36H1440.18V1358.9H1407.16V1356.36H1402.08V1358.9H1391.92V1361.44H1386.84V1358.9H1353.82V1361.44H1333.5V1358.9H1318.26V1361.44H1297.94V1363.98H1272.54V1361.44H1262.38V1358.9H1259.84V1356.36H1254.76V1353.82H1239.52V1356.36H1214.12V1353.82H1209.04V1356.36H1198.88V1358.9H1191.26V1361.44H1173.48V1363.98H1140.46V1366.52H1064.26V1363.98H1051.56V1366.52H1041.4V1369.06H1031.24V1366.52H1026.16V1363.98H1021.08V1361.44H1013.46V1358.9H993.14V1356.36H990.6V1353.82H982.98V1351.28H980.44V1353.82H927.1V1351.28H924.56V1353.82H922.02V1356.36H916.94V1358.9H909.32V1353.82H906.78V1351.28H904.24V1341.12H901.7V1338.58H899.16V1346.2H896.62V1348.74H894.08V1351.28H891.54V1353.82H889V1356.36H886.46V1358.9H883.92V1361.44H881.38V1363.98H858.52V1361.44H835.66V1363.98H830.58V1366.52H825.5V1369.06H820.42V1371.6H802.64V1369.06H800.1V1366.52H784.86V1369.06H782.32V1371.6H741.68V1369.06H739.14V1366.52H734.06V1363.98H711.2V1366.52H708.66V1369.06H688.34V1366.52H683.26V1363.98H680.72V1361.44H675.64V1358.9H670.56V1356.36H655.32V1358.9H650.24V1361.44H645.16V1363.98H642.62V1366.52H640.08V1371.6H637.54V1369.06H635V1363.98H632.46V1361.44H629.92V1356.36H627.38V1353.82H619.76V1356.36H617.22V1358.9H614.68V1363.98H612.14V1366.52H607.06V1369.06H579.12V1366.52H561.34V1363.98H556.26V1361.44H541.02V1363.98H535.94V1366.52H533.4V1369.06H477.52V1366.52H459.74V1369.06H449.58V1371.6H426.72V1369.06H419.1V1371.6H416.56V1374.14H386.08V1371.6H383.54V1369.06H378.46V1366.52H368.3V1369.06H360.68V1371.6H355.6V1374.14H353.06V1369.06H347.98V1366.52H345.44V1361.44H342.9V1356.36H340.36V1353.82H337.82V1356.36H335.28V1358.9H322.58V1361.44H320.04V1363.98H317.5V1366.52H314.96V1369.06H312.42V1371.6H309.88V1374.14H307.34V1376.68H304.8V1379.22H266.7V1381.76H256.9V1376.68H266.7V1374.14H304.8V1371.6H307.34V1369.06H309.88V1366.52H312.42V1363.98H314.96V1361.44H317.5V1358.9H320.04V1356.36H322.58V1353.82H335.28V1348.74H340.36V1351.28H342.9V1353.82H345.44V1356.36H347.98V1361.44H350.52V1363.98H353.06V1366.52H358.14V1363.98H368.3V1361.44H378.46V1363.98H383.54V1366.52H388.62V1369.06H416.56V1366.52H419.1V1363.98H426.72V1366.52H449.58V1363.98H459.74V1361.44H477.52V1363.98H533.4V1361.44H535.94V1358.9H538.48V1356.36H556.26V1358.9H561.34V1361.44H579.12V1363.98H607.06V1361.44H609.6V1358.9H612.14V1356.36H614.68V1353.82H617.22V1351.28H619.76V1348.74H627.38V1351.28H629.92V1353.82H635V1361.44H637.54V1363.98H640.08V1361.44H642.62V1358.9H645.16V1356.36H650.24V1353.82H655.32V1351.28H670.56V1353.82H675.64V1356.36H680.72V1358.9H683.26V1361.44H688.34V1363.98H708.66V1361.44H711.2V1358.9H734.06V1361.44H739.14V1363.98H741.68V1366.52H782.32V1363.98H784.86V1361.44H800.1V1363.98H802.64V1366.52H820.42V1363.98H822.96V1361.44H830.58V1358.9H835.66V1356.36H861.06V1358.9H881.38V1353.82H886.46V1351.28H889V1348.74H891.54V1346.2H894.08V1338.58H896.62V1333.5H901.7V1330.96H904.24V1336.04H906.78V1341.12H909.32V1351.28H911.86V1353.82H916.94V1351.28H922.02V1348.74H924.56V1346.2H927.1V1348.74H980.44V1346.2H982.98V1348.74H990.6V1351.28H993.14V1353.82H1016V1356.36H1023.62V1358.9H1026.16V1361.44H1031.24V1363.98H1038.86V1361.44H1051.56V1358.9H1064.26V1361.44H1140.46V1358.9H1173.48V1356.36H1191.26V1353.82H1198.88V1351.28H1209.04V1348.74H1214.12V1351.28H1239.52V1348.74H1257.3V1351.28H1262.38V1356.36H1272.54V1358.9H1297.94V1356.36H1318.26V1353.82H1336.04V1356.36H1353.82V1353.82H1386.84V1356.36H1391.92V1353.82H1402.08V1351.28H1409.7V1353.82H1440.18V1351.28H1447.8V1348.74H1498.6V1351.28H1511.3V1348.74H1526.54V1351.28H1536.7V1353.82H1559.56V1351.28H1569.72V1348.74H1600.2V1351.28H1607.82V1353.82H1610.36V1356.36H1628.14V1353.82H1633.22V1351.28H1676.4V1353.82H1706.88V1351.28H1714.5V1348.74H1732.28V1351.28H1742.44V1353.82H1744.98V1351.28H1755.14V1348.74H1765.3V1346.2H1767.84V1343.66H1770.38V1341.12H1783.08V1338.58H1793.24V1336.04H1795.78V1330.96H1798.32V1328.42H1800.86V1323.34H1803.4V1315.72H1805.94V1308.1H1808.48V1300.48H1811.02V1295.4H1813.56V1292.86H1821.18V1297.94H1823.72V1300.48H1826.26V1305.56H1828.8V1308.1H1833.88V1303.02H1836.42V1292.86H1838.96V1280.16H1841.5V1259.84H1844.04V1236.98H1846.58V1211.58H1849.12V1186.18H1851.66V1163.32H1854.2V1148.08H1856.74Z" fill="#336699"/>
<path d="M1854.2,1404.62H1856.74V1407.16H1859.28V1412.24H1861.82V1432.56H1864.36V1465.58H1866.9V1493.52H1869.44V1526.54H1871.98V1551.94H1874.52V1574.8H1877.06V1595.12H1879.6V1605.28H1882.14V1612.9H1884.68V1615.44H1894.84V1612.9H1907.54V1615.44H1935.48V1620.52H1955.8V1617.98H1963.42V1615.44H1965.96V1612.9H1968.5V1610.36H1971.04V1605.28H1973.58V1600.2H1976.12V1590.04H1978.66V1579.88H1981.2V1572.26H1983.74V1567.18H1986.28V1564.64H1988.82V1562.1H1991.36V1564.64H1993.9V1567.18H1996.44V1572.26H1998.98V1577.34H2001.52V1582.42H2004.06V1590.04H2006.6V1595.12H2009.14V1600.2H2011.68V1605.28H2014.22V1610.36H2016.76V1612.9H2019.3V1615.44H2024.38V1617.98H2029.46V1620.52H2037.08V1623.06H2049.78V1625.6H2054.86V1623.06H2080.26V1625.6H2092.96V1628.14H2095.5V1625.6H2098.04V1628.14H2103.12V1630.68H2120.9V1628.14H2133.6V1625.6H2136.14V1628.14H2151.38V1625.6H2169.16V1628.14H2179.32V1630.68H2207.26V1628.14H2245.36V1625.6H2247.9V1628.14H2296.6V1633.22H2209.8V1635.76H2179.32V1633.22H2166.62V1630.68H2153.92V1633.22H2123.44V1635.76H2103.12V1633.22H2095.5V1635.76H2092.96V1630.68H2077.72V1628.14H2054.86V1630.68H2049.78V1628.14H2037.08V1625.6H2029.46V1623.06H2021.84V1620.52H2019.3V1617.98H2016.76V1615.44H2014.22V1612.9H2011.68V1610.36H2009.14V1605.28H2006.6V1600.2H2004.06V1595.12H2001.52V1590.04H1998.98V1582.42H1996.44V1577.34H1993.9V1572.26H1991.36V1567.18H1988.82V1572.26H1986.28V1582.42H1983.74V1590.04H1981.2V1600.2H1978.66V1605.28H1976.12V1610.36H1973.58V1615.44H1968.5V1617.98H1965.96V1620.52H1963.42V1623.06H1955.8V1625.6H1935.48V1623.06H1932.94V1620.52H1905V1617.98H1894.84V1620.52H1884.68V1617.98H1882.14V1615.44H1879.6V1612.9H1877.06V1605.28H1874.52V1595.12H1871.98V1574.8H1869.44V1551.94H1866.9V1526.54H1864.36V1493.52H1861.82V1465.58H1859.28V1432.56H1856.74V1447.8H1854.2V1483.36H1851.66V1508.76H1849.12V1531.62H1846.58V1549.4H1844.04V1567.18H1841.5V1582.42H1838.96V1587.5H1833.88V1590.04H1831.34V1587.5H1828.8V1584.96H1826.26V1582.42H1823.72V1577.34H1821.18V1574.8H1818.64V1572.26H1816.1V1574.8H1813.56V1582.42H1811.02V1587.5H1808.48V1592.58H1805.94V1597.66H1803.4V1602.74H1800.86V1605.28H1798.32V1610.36H1793.24V1612.9H1790.7V1615.44H1772.92V1617.98H1770.38V1620.52H1765.3V1623.06H1762.76V1625.6H1760.22V1628.14H1750.06V1630.68H1739.9V1628.14H1727.2V1630.68H1724.66V1628.14H1711.96V1630.68H1709.42V1633.22H1704.34V1638.3H1701.8V1635.76H1699.26V1633.22H1696.72V1630.68H1684.02V1628.14H1663.7V1630.68H1653.54V1633.22H1628.14V1630.68H1620.52V1633.22H1602.74V1630.68H1600.2V1628.14H1590.04V1625.6H1567.18V1628.14H1562.1V1630.68H1559.56V1633.22H1539.24V1630.68H1536.7V1628.14H1498.6V1630.68H1480.82V1628.14H1473.2V1630.68H1470.66V1635.76H1468.12V1638.3H1465.58V1633.22H1463.04V1628.14H1460.5V1625.6H1447.8V1628.14H1445.26V1630.68H1442.72V1633.22H1404.62V1635.76H1391.92V1633.22H1353.82V1635.76H1313.18V1638.3H1292.86V1635.76H1267.46V1633.22H1239.52V1635.76H1231.9V1633.22H1224.28V1630.68H1203.96V1633.22H1193.8V1635.76H1168.4V1638.3H1132.84V1635.76H1115.06V1638.3H1109.98V1640.84H1092.2V1638.3H1079.5V1635.76H1041.4V1638.3H1013.46V1635.76H995.68V1633.22H993.14V1630.68H990.6V1628.14H965.2V1625.6H952.5V1628.14H947.42V1630.68H944.88V1633.22H934.72V1630.68H932.18V1628.14H929.64V1625.6H927.1V1623.06H922.02V1625.6H919.48V1628.14H916.94V1633.22H914.4V1638.3H909.32V1630.68H906.78V1620.52H904.24V1612.9H901.7V1610.36H899.16V1615.44H896.62V1625.6H894.08V1630.68H883.92V1633.22H878.84V1635.76H876.3V1638.3H868.68V1640.84H850.9V1638.3H843.28V1635.76H830.58V1638.3H792.48V1640.84H777.24V1638.3H728.98V1635.76H721.36V1633.22H711.2V1635.76H693.42V1633.22H690.88V1630.68H685.8V1628.14H670.56V1623.06H660.4V1625.6H657.86V1628.14H655.32V1630.68H652.78V1633.22H637.54V1630.68H635V1628.14H619.76V1630.68H617.22V1633.22H614.68V1635.76H612.14V1638.3H609.6V1640.84H594.36V1638.3H584.2V1635.76H558.8V1633.22H533.4V1635.76H528.32V1638.3H510.54V1635.76H497.84V1638.3H485.14V1635.76H447.04V1638.3H444.5V1640.84H391.16V1638.3H386.08V1635.76H350.52V1633.22H347.98V1630.68H345.44V1628.14H322.58V1630.68H317.5V1633.22H309.88V1635.76H302.26V1638.3H294.64V1640.84H287.02V1643.38H281.94V1645.92H256.9V1640.84H281.94V1638.3H287.02V1635.76H294.64V1633.22H302.26V1630.68H309.88V1628.14H317.5V1625.6H322.58V1623.06H345.44V1625.6H347.98V1628.14H350.52V1630.68H388.62V1633.22H391.16V1635.76H419.1V1633.22H421.64V1635.76H444.5V1633.22H447.04V1630.68H485.14V1633.22H495.3V1630.68H510.54V1633.22H528.32V1630.68H533.4V1628.14H558.8V1630.68H586.74V1633.22H596.9V1635.76H609.6V1633.22H612.14V1630.68H614.68V1628.14H617.22V1625.6H619.76V1623.06H635V1625.6H640.08V1628.14H652.78V1625.6H655.32V1623.06H657.86V1620.52H660.4V1617.98H670.56V1620.52H673.1V1623.06H685.8V1625.6H690.88V1628.14H695.96V1630.68H708.66V1628.14H721.36V1630.68H728.98V1633.22H779.78V1635.76H792.48V1633.22H830.58V1630.68H843.28V1633.22H853.44V1635.76H868.68V1633.22H876.3V1630.68H878.84V1628.14H883.92V1625.6H891.54V1615.44H894.08V1605.28H901.7V1602.74H904.24V1607.82H906.78V1612.9H909.32V1620.52H911.86V1628.14H914.4V1625.6H916.94V1623.06H919.48V1617.98H927.1V1620.52H929.64V1623.06H932.18V1625.6H934.72V1628.14H942.34V1625.6H947.42V1623.06H949.96V1620.52H967.74V1623.06H990.6V1625.6H993.14V1628.14H998.22V1630.68H1013.46V1633.22H1038.86V1630.68H1082.04V1633.22H1094.74V1635.76H1109.98V1633.22H1112.52V1630.68H1132.84V1633.22H1168.4V1630.68H1193.8V1628.14H1201.42V1625.6H1224.28V1628.14H1231.9V1630.68H1236.98V1628.14H1267.46V1630.68H1295.4V1633.22H1313.18V1630.68H1353.82V1628.14H1391.92V1630.68H1402.08V1628.14H1440.18V1625.6H1445.26V1623.06H1447.8V1620.52H1460.5V1623.06H1465.58V1628.14H1468.12V1625.6H1470.66V1623.06H1480.82V1625.6H1498.6V1623.06H1536.7V1625.6H1539.24V1628.14H1557.02V1625.6H1562.1V1623.06H1567.18V1620.52H1592.58V1623.06H1600.2V1625.6H1602.74V1628.14H1617.98V1625.6H1628.14V1628.14H1653.54V1625.6H1663.7V1623.06H1684.02V1625.6H1696.72V1628.14H1699.26V1630.68H1704.34V1628.14H1709.42V1625.6H1711.96V1623.06H1724.66V1625.6H1727.2V1623.06H1739.9V1625.6H1744.98V1623.06H1747.52V1620.52H1750.06V1623.06H1760.22V1620.52H1762.76V1617.98H1765.3V1615.44H1770.38V1612.9H1772.92V1610.36H1790.7V1607.82H1793.24V1605.28H1795.78V1602.74H1798.32V1597.66H1800.86V1592.58H1803.4V1587.5H1805.94V1582.42H1808.48V1574.8H1811.02V1572.26H1813.56V1569.72H1816.1V1567.18H1818.64V1569.72H1823.72V1574.8H1826.26V1577.34H1828.8V1582.42H1831.34V1584.96H1833.88V1582.42H1836.42V1567.18H1838.96V1549.4H1841.5V1531.62H1844.04V1508.76H1846.58V1483.36H1849.12V1447.8H1851.66V1417.32H1854.2Z" fill="#ed0000"/>
</g>
<text transform="translate(0,1712.77) scale(0.8900,1)" font-size="72.8" stroke="#fff" stroke-width="0.35" filter="url(#soft)"><tspan x="214.1" y="0">0</tspan></text>
<text transform="translate(0,1424.89) scale(0.8900,1)" font-size="72.8" stroke="#fff" stroke-width="0.35" filter="url(#soft)"><tspan x="214.07" y="0">1</tspan></text><g transform="translate(0,1424.89) scale(0.8900,1)" fill="#fff"><rect x="217.71" y="-7.84" width="14.32" height="9.94"/><rect x="239.16" y="-7.84" width="13.84" height="9.94"/></g>
<text transform="translate(0,1137.01) scale(0.8900,1)" font-size="72.8" stroke="#fff" stroke-width="0.35" filter="url(#soft)"><tspan x="214.1" y="0">2</tspan></text>
<text transform="translate(0,849.13) scale(0.8900,1)" font-size="72.8" stroke="#fff" stroke-width="0.35" filter="url(#soft)"><tspan x="214.11" y="0">3</tspan></text>
<text transform="translate(0,561.25) scale(0.8900,1)" font-size="72.8" stroke="#fff" stroke-width="0.35" filter="url(#soft)"><tspan x="214.11" y="0">4</tspan></text>
<text transform="translate(0,273.38) scale(0.8900,1)" font-size="72.8" stroke="#fff" stroke-width="0.35" filter="url(#soft)"><tspan x="214.1" y="0">5</tspan></text>
<text transform="translate(0,1802.17) scale(0.8798,1)" font-size="72.2" stroke="#fff" stroke-width="0.35" filter="url(#soft)"><tspan x="232.61" y="0">200</tspan></text>
<text transform="translate(0,1802.17) scale(0.8804,1)" font-size="72.2" stroke="#fff" stroke-width="0.35" filter="url(#soft)"><tspan x="521.48" y="0">400</tspan></text>
<text transform="translate(0,1802.17) scale(0.8933,1)" font-size="72.2" stroke="#fff" stroke-width="0.35" filter="url(#soft)"><tspan x="798.73" y="0">600</tspan></text>
<text transform="translate(0,1802.17) scale(0.9005,1)" font-size="72.2" stroke="#fff" stroke-width="0.35" filter="url(#soft)"><tspan x="1074.38" y="0">800</tspan></text>
<text transform="translate(0,1802.17) scale(0.8817,1)" font-size="72.2" stroke="#fff" stroke-width="0.35" filter="url(#soft)"><tspan x="1367.81" y="0">1000</tspan></text><g transform="translate(0,1802.17) scale(0.8817,1)" fill="#fff"><rect x="1371.42" y="-7.79" width="14.2" height="9.89"/><rect x="1392.69" y="-7.79" width="13.73" height="9.89"/></g>
<text transform="translate(0,1802.17) scale(0.8611,1)" font-size="72.2" stroke="#fff" stroke-width="0.35" filter="url(#soft)"><tspan x="1699.26" y="0">1200</tspan></text><g transform="translate(0,1802.17) scale(0.8611,1)" fill="#fff"><rect x="1702.87" y="-7.79" width="14.2" height="9.89"/><rect x="1724.15" y="-7.79" width="13.73" height="9.89"/></g>
<text transform="translate(0,1802.17) scale(0.8658,1)" font-size="72.2" stroke="#fff" stroke-width="0.35" filter="url(#soft)"><tspan x="1983.93" y="0">1400</tspan></text><g transform="translate(0,1802.17) scale(0.8658,1)" fill="#fff"><rect x="1987.54" y="-7.79" width="14.2" height="9.89"/><rect x="2008.82" y="-7.79" width="13.73" height="9.89"/></g>
<text transform="translate(0,1802.17) scale(0.8638,1)" font-size="72.2" stroke="#fff" stroke-width="0.35" filter="url(#soft)"><tspan x="2282.82" y="0">1600</tspan></text><g transform="translate(0,1802.17) scale(0.8638,1)" fill="#fff"><rect x="2286.43" y="-7.79" width="14.2" height="9.89"/><rect x="2307.7" y="-7.79" width="13.73" height="9.89"/></g>
<text transform="translate(0,1802.17) scale(0.8658,1)" font-size="72.2" stroke="#fff" stroke-width="0.35" filter="url(#soft)"><tspan x="2571.39" y="0">1800</tspan></text><g transform="translate(0,1802.17) scale(0.8658,1)" fill="#fff"><rect x="2575" y="-7.79" width="14.2" height="9.89"/><rect x="2596.27" y="-7.79" width="13.73" height="9.89"/></g>
<text transform="translate(0,1944.4) scale(0.8681,1)" font-size="90" filter="url(#soft)"><tspan x="1103.26" y="0" letter-spacing="-0.46">Raman</tspan> <tspan x="1418.84" y="0" letter-spacing="-0.64">Shift</tspan> <tspan x="1619.89" y="0">/</tspan> <tspan x="1669.29" y="0" letter-spacing="3.59">cm</tspan><tspan x="1787.81" y="-40.7" font-size="55">-</tspan><tspan x="1808.01" y="-40.7" font-size="55">1</tspan></text><g transform="translate(0,1944.4) scale(0.8681,1)" fill="#fff"><rect x="1810.76" y="-47.21" width="10.73" height="8.61"/><rect x="1827.05" y="-47.21" width="10.46" height="8.61"/></g>
<text transform="translate(126.3,0) rotate(-90) scale(0.9390,1)" font-size="90" filter="url(#soft)"><tspan x="-1305.68" y="0" letter-spacing="0.05">Intesity</tspan> <tspan x="-990.12" y="0">/</tspan> <tspan x="-938.33" y="0" letter-spacing="-0.21">Arb.</tspan> <tspan x="-746.69" y="0" letter-spacing="0.57">Units</tspan></text>
<text transform="translate(0,1608.58) scale(0.8933,1)" font-size="63" stroke="#fff" stroke-width="0.35" filter="url(#soft)"><tspan x="2376.88" y="0" letter-spacing="-0.88">95</tspan> <tspan x="2464.09" y="0" letter-spacing="0.88">nm</tspan></text>
<text transform="translate(0,1336.38) scale(0.8788,1)" font-size="63" stroke="#fff" stroke-width="0.35" filter="url(#soft)"><tspan x="2385.53" y="0" letter-spacing="-1.09">105</tspan> <tspan x="2504.61" y="0" letter-spacing="2.18">nm</tspan></text><g transform="translate(0,1336.38) scale(0.8788,1)" fill="#fff"><rect x="2388.68" y="-7.11" width="12.34" height="9.21"/><rect x="2407.29" y="-7.11" width="11.98" height="9.21"/></g>
<text transform="translate(0,1051.38) scale(0.8811,1)" font-size="63" stroke="#fff" stroke-width="0.35" filter="url(#soft)"><tspan x="2379.32" y="0" letter-spacing="-1.21">115</tspan> <tspan x="2500.59" y="0" letter-spacing="2.43">nm</tspan></text><g transform="translate(0,1051.38) scale(0.8811,1)" fill="#fff"><rect x="2382.47" y="-7.11" width="12.34" height="9.21"/><rect x="2401.08" y="-7.11" width="11.98" height="9.21"/><rect x="2416.3" y="-7.11" width="12.34" height="9.21"/><rect x="2434.91" y="-7.11" width="11.98" height="9.21"/></g>
<text transform="translate(0,789.37) scale(0.8823,1)" font-size="63" stroke="#fff" stroke-width="0.35" filter="url(#soft)"><tspan x="2373.4" y="0" letter-spacing="-1.27">125</tspan> <tspan x="2491.45" y="0" letter-spacing="2.55">nm</tspan></text><g transform="translate(0,789.37) scale(0.8823,1)" fill="#fff"><rect x="2376.55" y="-7.11" width="12.34" height="9.21"/><rect x="2395.16" y="-7.11" width="11.98" height="9.21"/></g>
<text transform="translate(0,578.57) scale(0.8960,1)" font-size="63" stroke="#fff" stroke-width="0.35" filter="url(#soft)"><tspan x="2342.53" y="0" letter-spacing="-0.32">145</tspan> <tspan x="2462.15" y="0" letter-spacing="0.63">nm</tspan></text><g transform="translate(0,578.57) scale(0.8960,1)" fill="#fff"><rect x="2345.68" y="-7.11" width="12.34" height="9.21"/><rect x="2364.29" y="-7.11" width="11.98" height="9.21"/></g>
<text transform="translate(0,321.38) scale(0.8916,1)" font-size="63" stroke="#fff" stroke-width="0.35" filter="url(#soft)"><tspan x="2357.19" y="0" letter-spacing="-0.51">160</tspan> <tspan x="2477.39" y="0" letter-spacing="1.02">nm</tspan></text><g transform="translate(0,321.38) scale(0.8916,1)" fill="#fff"><rect x="2360.34" y="-7.11" width="12.34" height="9.21"/><rect x="2378.95" y="-7.11" width="11.98" height="9.21"/></g>
</svg>
</body></html>
